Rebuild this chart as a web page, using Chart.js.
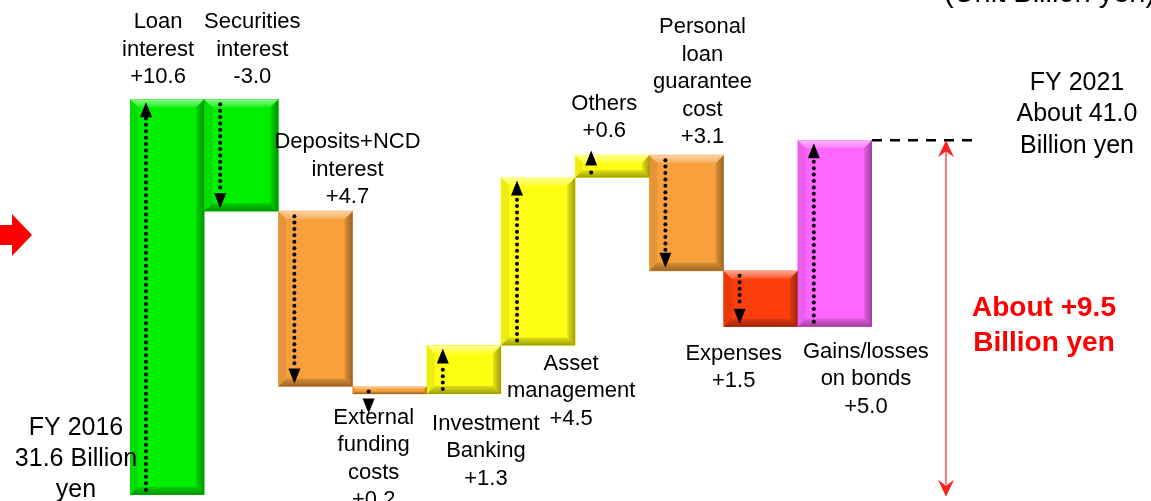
<!DOCTYPE html>
<html>
<head>
<meta charset="utf-8">
<script src="https://cdn.jsdelivr.net/npm/chart.js@4.4.1/dist/chart.umd.min.js"></script>
<style>
  html, body { margin: 0; padding: 0; background: #fff; }
  #bridge { display: block; }
</style>
</head>
<body>
<canvas id="bridge" width="1151" height="501"></canvas>
<script>
// Ordinary profit bridge, FY2016 -> FY2021 (billion yen)
const startValue = 31.6;
const items = [
    ['Loan', 'interest'],
    ['Securities', 'interest'],
    ['Deposits+NCD', 'interest'],
    ['External', 'funding', 'costs'],
    ['Investment', 'Banking'],
    ['Asset', 'management'],
    ['Others'],
    ['Personal', 'loan', 'guarantee', 'cost'],
    ['Expenses'],
    ['Gains/losses', 'on bonds']
];
// effect on profit (costs that grew pull the total down)
const deltas = [10.6, -3.0, -4.7, -0.2, 1.3, 4.5, 0.6, -3.1, -1.5, 5.0];
const deltaLabels = ['+10.6', '-3.0', '+4.7', '+0.2', '+1.3', '+4.5', '+0.6', '+3.1', '+1.5', '+5.0'];
const startLabel = ['FY 2016', startValue.toFixed(1) + ' Billion', 'yen'];
const endLabel = ['FY 2021', 'About 41.0', 'Billion yen'];
const diffLabel = ['About +9.5', 'Billion yen'];
const unitLabel = '(Unit Billion yen)';

// look of each bar and where its caption sits
const barColors = ['#00ee00', '#00ee00', '#f7a03c', '#f7a03c', '#ffff14',
                   '#ffff14', '#ffff14', '#f7a03c', '#fb3e0c', '#ff66ff'];
const captionSpots = [
    {side: 'above', dx: -9, gap: 22},
    {side: 'above', dx: 11, gap: 22},
    {side: 'above', dx: 32, gap: 14},
    {side: 'below', dx: -16, gap: 24},
    {side: 'below', dx: 22, gap: 30},
    {side: 'below', dx: 33, gap: 18},
    {side: 'above', dx: -8, gap: 24},
    {side: 'above', dx: 16, gap: 18},
    {side: 'below', dx: -27, gap: 27},
    {side: 'below', dx: 31, gap: 25}
];

// running totals -> floating bar ranges
let running = startValue;
const ranges = deltas.map(function(d) {
    const r = [running, +(running + d).toFixed(1)];
    running = r[1];
    return r;
});
const endValue = running;

const FONT = '"Liberation Sans", Arial, sans-serif';

function drawLines(ctx, lines, cx, cy, lh) {
    lines.forEach(function(t, k) {
        ctx.fillText(t, cx, cy + k * lh);
    });
}

// dotted line with a solid head, from y0 towards y1
function dottedArrow(ctx, x, y0, y1) {
    const dir = y1 > y0 ? 1 : -1;
    const headLen = 15, headHalf = 6;
    const stemEnd = y1 - dir * headLen;
    ctx.fillStyle = '#000';
    for (let yy = y0; (stemEnd - yy) * dir > 1; yy += dir * 6.4) {
        ctx.beginPath();
        ctx.arc(x, yy, 2, 0, Math.PI * 2);
        ctx.fill();
    }
    ctx.beginPath();
    ctx.moveTo(x, y1);
    ctx.lineTo(x - headHalf, stemEnd);
    ctx.lineTo(x + headHalf, stemEnd);
    ctx.closePath();
    ctx.fill();
}

// barbed red arrow head pointing in dir (+1 down, -1 up)
function redHead(ctx, x, tipY, dir) {
    ctx.beginPath();
    ctx.moveTo(x, tipY);
    ctx.lineTo(x - 8, tipY - dir * 17);
    ctx.lineTo(x, tipY - dir * 11);
    ctx.lineTo(x + 8, tipY - dir * 17);
    ctx.closePath();
    ctx.fill();
}

function bevel(ctx, l, t, r, b) {
    const k = Math.max(1, Math.min(8, (b - t) / 3, (r - l) / 3));
    const top = ctx.createLinearGradient(0, t, 0, t + k);
    top.addColorStop(0, 'rgba(255,255,255,0.55)');
    top.addColorStop(1, 'rgba(255,255,255,0.12)');
    ctx.fillStyle = top;
    ctx.beginPath();
    ctx.moveTo(l, t); ctx.lineTo(r, t); ctx.lineTo(r - k, t + k); ctx.lineTo(l + k, t + k);
    ctx.closePath(); ctx.fill();

    ctx.fillStyle = 'rgba(0,0,0,0.07)';
    ctx.beginPath();
    ctx.moveTo(l, t); ctx.lineTo(l + k, t + k); ctx.lineTo(l + k, b - k); ctx.lineTo(l, b);
    ctx.closePath(); ctx.fill();

    const right = ctx.createLinearGradient(r - k, 0, r, 0);
    right.addColorStop(0, 'rgba(0,0,0,0.10)');
    right.addColorStop(1, 'rgba(0,0,0,0.38)');
    ctx.fillStyle = right;
    ctx.beginPath();
    ctx.moveTo(r, t); ctx.lineTo(r, b); ctx.lineTo(r - k, b - k); ctx.lineTo(r - k, t + k);
    ctx.closePath(); ctx.fill();

    const bottom = ctx.createLinearGradient(0, b - k, 0, b);
    bottom.addColorStop(0, 'rgba(0,0,0,0.12)');
    bottom.addColorStop(1, 'rgba(0,0,0,0.38)');
    ctx.fillStyle = bottom;
    ctx.beginPath();
    ctx.moveTo(l, b); ctx.lineTo(r, b); ctx.lineTo(r - k, b - k); ctx.lineTo(l + k, b - k);
    ctx.closePath(); ctx.fill();
}

const bridgeDecor = {
    id: 'bridgeDecor',
    afterDatasetsDraw: function(chart) {
        const ctx = chart.ctx;
        const yScale = chart.scales.y;
        const meta = chart.getDatasetMeta(0);
        ctx.save();
        meta.data.forEach(function(bar, i) {
            const p = bar.getProps(['x', 'y', 'base', 'width'], true);
            const l = p.x - p.width / 2, r = p.x + p.width / 2;
            const t = Math.min(p.y, p.base), b = Math.max(p.y, p.base);
            bevel(ctx, l, t, r, b);

            // arrow runs from the start value to the end value
            const y0 = yScale.getPixelForValue(ranges[i][0]);
            const y1 = yScale.getPixelForValue(ranges[i][1]);
            const dir = y1 > y0 ? 1 : -1;
            let from = y0 + dir * 5;
            let to = y1 - dir * 3;
            if (Math.abs(to - from) < 22) to = from + dir * 22;
            dottedArrow(ctx, l + 16, from, to);

            // caption
            const lines = items[i].concat(deltaLabels[i]);
            const spot = captionSpots[i];
            const lh = 27.5;
            ctx.fillStyle = '#000';
            ctx.font = '22px ' + FONT;
            ctx.textAlign = 'center';
            ctx.textBaseline = 'middle';
            let cy;
            if (spot.side === 'above') cy = t - spot.gap - (lines.length - 1) * lh;
            else cy = b + spot.gap;
            drawLines(ctx, lines, p.x + spot.dx, cy, lh);
        });

        // FY2021 level carried to the right
        const last = meta.data[meta.data.length - 1].getProps(['x', 'width'], true);
        const yEnd = yScale.getPixelForValue(endValue);
        const yStart = yScale.getPixelForValue(startValue);
        ctx.strokeStyle = '#000';
        ctx.lineWidth = 2.5;
        ctx.setLineDash([10, 8]);
        ctx.beginPath();
        ctx.moveTo(last.x + last.width / 2, yEnd);
        ctx.lineTo(980, yEnd);
        ctx.stroke();
        ctx.setLineDash([]);

        // total change between the two years
        ctx.strokeStyle = '#ff2020';
        ctx.fillStyle = '#ff2020';
        ctx.lineWidth = 1.2;
        ctx.beginPath();
        ctx.moveTo(946, yEnd + 10);
        ctx.lineTo(946, yStart - 10);
        ctx.stroke();
        redHead(ctx, 946, yEnd, -1);
        redHead(ctx, 946, yStart + 2, 1);

        // left arrow from the previous section
        ctx.fillStyle = '#ff0000';
        ctx.beginPath();
        ctx.moveTo(0, 225); ctx.lineTo(12, 225); ctx.lineTo(12, 214); ctx.lineTo(32, 235);
        ctx.lineTo(12, 256); ctx.lineTo(12, 245); ctx.lineTo(0, 245);
        ctx.closePath(); ctx.fill();

        // side texts
        ctx.fillStyle = '#000';
        ctx.textAlign = 'center';
        ctx.textBaseline = 'middle';
        ctx.font = '25px ' + FONT;
        drawLines(ctx, startLabel, 76, 428, 31);
        drawLines(ctx, endLabel, 1077, 83, 31.5);

        ctx.fillStyle = '#ff0000';
        ctx.font = 'bold 28px ' + FONT;
        drawLines(ctx, diffLabel, 1044, 308, 35);

        ctx.fillStyle = '#000';
        ctx.font = '29px ' + FONT;
        ctx.textAlign = 'left';
        ctx.textBaseline = 'alphabetic';
        ctx.fillText(unitLabel, 944, 2);
        ctx.restore();
    }
};

new Chart(document.getElementById('bridge').getContext('2d'), {
    type: 'bar',
    data: {
        labels: items.map(function(it) { return it.join(' '); }),
        datasets: [{
            data: ranges,
            backgroundColor: barColors,
            borderWidth: 0,
            barPercentage: 1.0,
            categoryPercentage: 1.0
        }]
    },
    options: {
        responsive: false,
        animation: false,
        layout: {padding: {left: 130, right: 279, top: 0, bottom: 0}},
        plugins: {
            legend: {display: false},
            tooltip: {enabled: false}
        },
        scales: {
            x: {display: false},
            y: {display: false, min: 31.43, max: 44.86}
        }
    },
    plugins: [bridgeDecor]
});
</script>
</body>
</html>
